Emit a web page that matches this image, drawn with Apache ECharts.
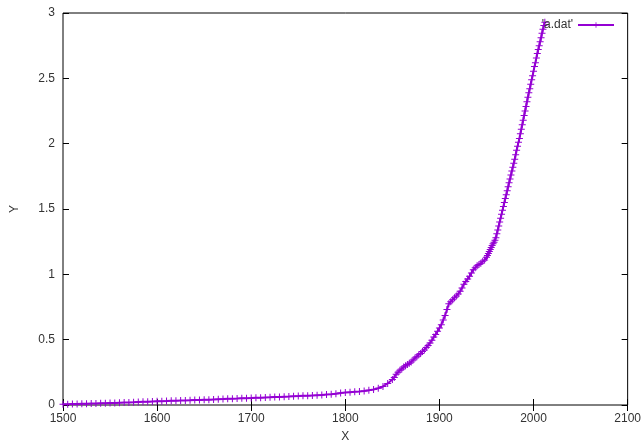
<!DOCTYPE html>
<html>
<head>
<meta charset="utf-8">
<script src="https://cdn.jsdelivr.net/npm/echarts@6/dist/echarts.min.js"></script>
<style>
html, body { margin: 0; padding: 0; background: #fff; }
#main { width: 644px; height: 448px; }
</style>
</head>
<body>
<div id="main"></div>
<script>
// 1500-1850 every 5 years, 1852-1950 every 2 years, then yearly
var yearsA = [1500,1505,1510,1515,1520,1525,1530,1535,1540,1545,1550,1555,1560,1565,1570,1575,1580,1585,1590,1595,
    1600,1605,1610,1615,1620,1625,1630,1635,1640,1645,1650,1655,1660,1665,1670,1675,1680,1685,1690,1695,
    1700,1705,1710,1715,1720,1725,1730,1735,1740,1745,1750,1755,1760,1765,1770,1775,1780,1785,1790,1795,
    1800,1805,1810,1815,1820,1825,1830,1835,1840,1845,1850];
var valuesA = [.005,.006,.007,.008,.009,.010,.011,.012,.013,.014,.015,.016,.018,.019,.020,.021,.023,.024,.025,.027,
    .028,.029,.030,.032,.033,.034,.035,.036,.038,.039,.040,.041,.043,.044,.045,.047,.048,.049,.051,.052,
    .053,.055,.056,.058,.059,.061,.062,.064,.065,.067,.068,.070,.071,.073,.075,.077,.080,.083,.087,.091,
    .095,.098,.101,.104,.108,.113,.119,.128,.142,.165,.195];

var yearsB = [1852,1854,1856,1858,1860,1862,1864,1866,1868,1870,1872,1874,1876,1878,1880,1882,1884,1886,1888,1890,
    1892,1894,1896,1898,1900,1902,1904,1906,1908,1910,1912,1914,1916,1918,1920,1922,1924,1926,1928,1930,
    1932,1934,1936,1938,1940,1942,1944,1946,1948,1950];
var valuesB = [.21,.235,.25,.265,.275,.29,.30,.31,.32,.33,.345,.36,.37,.385,.395,.41,.42,.44,.455,.475,
    .495,.52,.54,.565,.59,.615,.65,.685,.73,.775,.79,.805,.82,.835,.85,.87,.895,.925,.945,.965,
    .985,1.01,1.035,1.05,1.065,1.075,1.085,1.10,1.11,1.13];

var yearsC = [1951,1952,1953,1954,1955,1956,1957,1958,1959,1960,1961,1962,1963,1964,1965,1966,1967,1968,1969,1970,
    1971,1972,1973,1974,1975,1976,1977,1978,1979,1980,1981,1982,1983,1984,1985,1986,1987,1988,1989,1990,
    1991,1992,1993,1994,1995,1996,1997,1998,1999,2000,2001,2002,2003,2004,2005,2006,2007,2008,2009,2010,
    2011,2012];
var valuesC = [1.145,1.16,1.175,1.19,1.205,1.22,1.235,1.245,1.26,1.28,1.31,1.34,1.37,1.40,1.43,1.46,1.49,1.52,1.55,1.58,
    1.61,1.64,1.67,1.70,1.73,1.76,1.79,1.82,1.85,1.88,1.915,1.95,1.98,2.01,2.04,2.075,2.11,2.145,2.18,2.215,
    2.25,2.285,2.32,2.355,2.39,2.42,2.455,2.49,2.52,2.555,2.59,2.62,2.655,2.69,2.72,2.75,2.78,2.81,2.845,2.875,
    2.905,2.93];

var years = yearsA.concat(yearsB, yearsC);
var values = valuesA.concat(valuesB, valuesC);

var xTicks = [1500, 1600, 1700, 1800, 1900, 2000, 2100];
var yTicks = [0, 0.5, 1, 1.5, 2, 2.5, 3];

var purple = '#9400d3';
var txt = '#333';
var font = 'Liberation Sans, Arial, sans-serif';
// gnuplot style "+" point
var plus = 'path://M0,6H14V8H0ZM6,0H8V14H6Z';

var pts = [];
for (var i = 0; i < years.length; i++) {
    pts.push([years[i], values[i]]);
}

var chart = echarts.init(document.getElementById('main'), null, { renderer: 'canvas' });

var xBase = {
    type: 'value', min: xTicks[0], max: xTicks[xTicks.length - 1], interval: 100,
    axisLine: { show: false },
    axisTick: { show: true, inside: true, length: 6, lineStyle: { color: '#000', width: 1 } },
    splitLine: { show: false }
};
var yBase = {
    type: 'value', min: yTicks[0], max: yTicks[yTicks.length - 1], interval: 0.5,
    axisLine: { show: false },
    axisTick: { show: true, inside: true, length: 6, lineStyle: { color: '#000', width: 1 } },
    splitLine: { show: false }
};

chart.setOption({
    backgroundColor: '#fff',
    animation: false,
    textStyle: { fontFamily: font },
    grid: { left: 63, right: 16, top: 13, bottom: 37, show: true, borderColor: '#000', borderWidth: 1, backgroundColor: 'transparent' },
    legend: {
        right: 24, top: 14,
        align: 'right',
        itemWidth: 36, itemHeight: 7, itemGap: 6,
        textStyle: { fontFamily: font, fontSize: 12, color: txt },
        data: ["'a.dat'"]
    },
    xAxis: [
        echarts.util.merge({
            position: 'bottom',
            name: 'X', nameLocation: 'middle', nameGap: 26,
            nameTextStyle: { fontFamily: font, fontSize: 12, color: txt },
            axisLabel: { margin: 8, fontFamily: font, fontSize: 12, color: txt,
                formatter: function (v) { return String(v); } }
        }, xBase, true),
        echarts.util.merge({ position: 'top', axisLabel: { show: false } }, xBase, true)
    ],
    yAxis: [
        echarts.util.merge({
            position: 'left',
            name: 'Y', nameLocation: 'middle', nameGap: 42,
            nameTextStyle: { fontFamily: font, fontSize: 12, color: txt },
            axisLabel: { margin: 8, fontFamily: font, fontSize: 12, color: txt }
        }, yBase, true),
        echarts.util.merge({ position: 'right', axisLabel: { show: false } }, yBase, true)
    ],
    series: [{
        name: "'a.dat'",
        type: 'line',
        xAxisIndex: 0, yAxisIndex: 0,
        data: pts,
        symbol: plus,
        symbolSize: 7,
        showAllSymbol: true,
        lineStyle: { color: purple, width: 2 },
        itemStyle: { color: purple, borderColor: purple, borderWidth: 0 },
        emphasis: { disabled: true }
    }]
});
</script>
</body>
</html>
